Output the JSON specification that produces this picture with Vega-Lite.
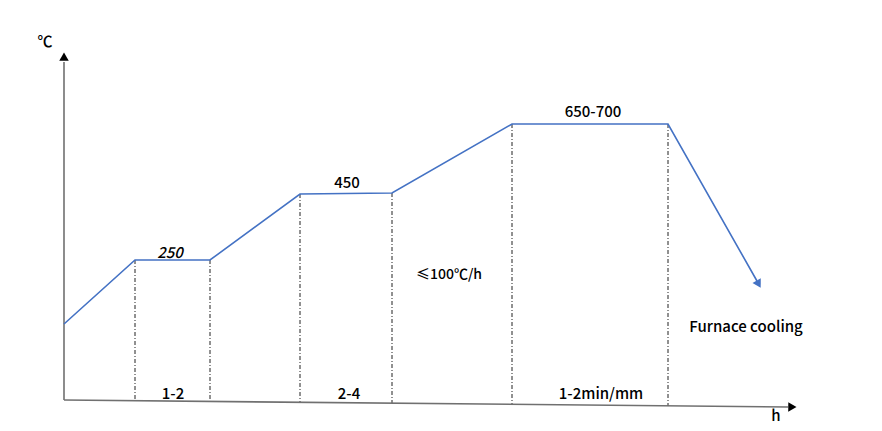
{
  "$schema": "https://vega.github.io/schema/vega-lite/v6.json",
  "width": 882,
  "height": 431,
  "padding": 0,
  "autosize": {"type": "none"},
  "background": "white",
  "config": {"view": {"stroke": null}},
  "datasets": {
    "curve": [
      {"step": 1, "t": 64, "temp": 324},
      {"step": 2, "t": 135, "temp": 260},
      {"step": 3, "t": 210, "temp": 260},
      {"step": 4, "t": 300, "temp": 194},
      {"step": 5, "t": 392, "temp": 193},
      {"step": 6, "t": 512, "temp": 124},
      {"step": 7, "t": 668, "temp": 124},
      {"step": 8, "t": 757, "temp": 281}
    ],
    "drops": [
      {"t": 135, "top": 260, "bottom": 400},
      {"t": 210, "top": 260, "bottom": 401},
      {"t": 300, "top": 194, "bottom": 402},
      {"t": 392, "top": 193, "bottom": 403},
      {"t": 512, "top": 124, "bottom": 405},
      {"t": 668, "top": 124, "bottom": 406}
    ],
    "axes": [
      {"name": "y", "x1": 64, "y1": 400, "x2": 64, "y2": 62},
      {"name": "x", "x1": 64, "y1": 400, "x2": 788, "y2": 407}
    ],
    "heads": [
      {"name": "y", "x": 64, "y": 58, "angle": 0, "color": "#000000"},
      {"name": "x", "x": 791, "y": 407, "angle": 90.5, "color": "#000000"},
      {"name": "cool", "x": 758, "y": 283, "angle": 150.4, "color": "#4472C4"}
    ],
    "labels": [
      {"x": 45, "y": 42, "label": "℃"},
      {"x": 347, "y": 183, "label": "450"},
      {"x": 593, "y": 112, "label": "650-700"},
      {"x": 746, "y": 327, "label": "Furnace cooling"},
      {"x": 173, "y": 394, "label": "1-2"},
      {"x": 349, "y": 394, "label": "2-4"},
      {"x": 601, "y": 394, "label": "1-2min/mm"},
      {"x": 776, "y": 416, "label": "h"}
    ],
    "italic": [{"x": 170, "y": 253, "label": "250"}],
    "rate": [{"x": 449, "y": 275, "label": "≤100℃/h"}]
  },
  "layer": [
    {
      "data": {"name": "drops"},
      "mark": {"type": "rule", "color": "#222222", "strokeWidth": 1, "strokeDash": [4, 2, 1, 2]},
      "encoding": {
        "x": {"field": "t", "type": "quantitative", "scale": {"domain": [0, 882]}, "axis": null},
        "y": {"field": "top", "type": "quantitative", "scale": {"domain": [431, 0]}, "axis": null},
        "y2": {"field": "bottom"}
      }
    },
    {
      "data": {"name": "axes"},
      "mark": {"type": "rule", "color": "#707070", "strokeWidth": 1.6},
      "encoding": {
        "x": {"field": "x1", "type": "quantitative", "scale": {"domain": [0, 882]}, "axis": null},
        "y": {"field": "y1", "type": "quantitative", "scale": {"domain": [431, 0]}, "axis": null},
        "x2": {"field": "x2"},
        "y2": {"field": "y2"}
      }
    },
    {
      "data": {"name": "curve"},
      "mark": {"type": "line", "color": "#4472C4", "strokeWidth": 1.6},
      "encoding": {
        "x": {"field": "t", "type": "quantitative", "scale": {"domain": [0, 882]}, "axis": null},
        "y": {"field": "temp", "type": "quantitative", "scale": {"domain": [431, 0]}, "axis": null},
        "order": {"field": "step", "type": "quantitative"}
      }
    },
    {
      "data": {"name": "heads"},
      "mark": {"type": "point", "shape": "triangle", "filled": true, "size": 90, "opacity": 1},
      "encoding": {
        "x": {"field": "x", "type": "quantitative", "scale": {"domain": [0, 882]}, "axis": null},
        "y": {"field": "y", "type": "quantitative", "scale": {"domain": [431, 0]}, "axis": null},
        "angle": {"field": "angle", "type": "quantitative", "scale": null},
        "color": {"field": "color", "type": "nominal", "scale": null}
      }
    },
    {
      "data": {"name": "labels"},
      "mark": {"type": "text", "font": "Noto Sans CJK SC", "fontSize": 15, "fontWeight": 500, "color": "#000000", "align": "center", "baseline": "middle"},
      "encoding": {
        "x": {"field": "x", "type": "quantitative", "scale": {"domain": [0, 882]}, "axis": null},
        "y": {"field": "y", "type": "quantitative", "scale": {"domain": [431, 0]}, "axis": null},
        "text": {"field": "label", "type": "nominal"}
      }
    },
    {
      "data": {"name": "italic"},
      "mark": {"type": "text", "font": "Noto Sans CJK SC", "fontSize": 15, "fontWeight": 500, "fontStyle": "italic", "color": "#000000", "align": "center", "baseline": "middle"},
      "encoding": {
        "x": {"field": "x", "type": "quantitative", "scale": {"domain": [0, 882]}, "axis": null},
        "y": {"field": "y", "type": "quantitative", "scale": {"domain": [431, 0]}, "axis": null},
        "text": {"field": "label", "type": "nominal"}
      }
    },
    {
      "data": {"name": "rate"},
      "mark": {"type": "text", "font": "Noto Sans CJK SC", "fontSize": 14, "fontWeight": 500, "color": "#000000", "align": "center", "baseline": "middle"},
      "encoding": {
        "x": {"field": "x", "type": "quantitative", "scale": {"domain": [0, 882]}, "axis": null},
        "y": {"field": "y", "type": "quantitative", "scale": {"domain": [431, 0]}, "axis": null},
        "text": {"field": "label", "type": "nominal"}
      }
    }
  ]
}
